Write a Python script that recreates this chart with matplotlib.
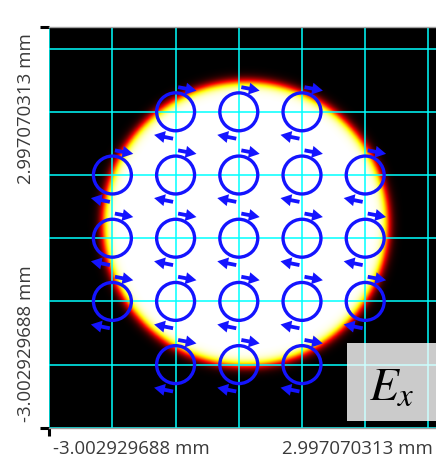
import numpy as np
import matplotlib
matplotlib.use("Agg")
import matplotlib.pyplot as plt
from matplotlib.colors import LinearSegmentedColormap
from matplotlib.patches import Circle, FancyArrow, Rectangle

# axis end labels (mm)
x_lo, x_hi_label = -3.002929688, 2.997070313
y_lo, y_hi_label = -3.002929688, 2.997070313
x_label_lo = "-3.002929688 mm"
x_label_hi = "2.997070313 mm"
y_label_lo = "-3.002929688 mm"
y_label_hi = "2.997070313 mm"

# visible window (mm)
x_view = (x_lo, 3.120)
y_view = (y_lo, 3.342)

# cyan grid lines (mm)
grid_mm = [-3, -2, -1, 0, 1, 2, 3]

# beam spot: centre, radius, edge softness (mm)
beam_cx, beam_cy = 0.10, 0.23
beam_r = 2.25
beam_edge = 0.09

# polarisation markers (mm)
marker_x = [-1, 0, 1,
            -2, -1, 0, 1, 2,
            -2, -1, 0, 1, 2,
            -2, -1, 0, 1, 2,
            -1, 0, 1]
marker_y = [2, 2, 2,
            1, 1, 1, 1, 1,
            0, 0, 0, 0, 0,
            -1, -1, -1, -1, -1,
            -2, -2, -2]

W, H = 436, 459
fig = plt.figure(figsize=(W / 100, H / 100), dpi=100)
ax = fig.add_axes([49 / W, (H - 428) / H, (W - 49) / W, 401 / H])

# intensity image, black -> red -> yellow -> white
cmap = LinearSegmentedColormap.from_list(
    "hotblack", [(0, "black"), (0.375, "red"), (0.75, "yellow"), (1, "white")])
xs = np.linspace(x_view[0], x_view[1], 700)
ys = np.linspace(y_view[0], y_view[1], 700)
X, Y = np.meshgrid(xs, ys)
R = np.hypot(X - beam_cx, Y - beam_cy)
I = 0.5 * (1 - np.tanh((R - beam_r) / beam_edge))
ax.imshow(I, cmap=cmap, vmin=0, vmax=1, origin="lower",
          extent=[x_view[0], x_view[1], y_view[0], y_view[1]],
          interpolation="bilinear", aspect="auto", zorder=0)

for g in grid_mm:
    ax.axvline(g, color="#00ffff", lw=1.1, zorder=1)
    ax.axhline(g, color="#00ffff", lw=1.1, zorder=1)

blue = "#1414ff"
rc = 0.30
arrow_kw = dict(width=0.06, head_width=0.19, head_length=0.17,
                length_includes_head=True, color=blue, lw=0, zorder=3)
for cx, cy in zip(marker_x, marker_y):
    ax.add_patch(Circle((cx, cy), rc, fill=False, ec=blue, lw=2.4, zorder=3))
    # top arrow -> right, bottom arrow -> left
    t0 = (cx + 0.04, cy + 0.39)
    t1 = (cx + 0.33, cy + 0.335)
    ax.add_patch(FancyArrow(t0[0], t0[1], t1[0] - t0[0], t1[1] - t0[1], **arrow_kw))
    b0 = (cx - 0.04, cy - 0.425)
    b1 = (cx - 0.34, cy - 0.365)
    ax.add_patch(FancyArrow(b0[0], b0[1], b1[0] - b0[0], b1[1] - b0[1], **arrow_kw))

ax.set_xlim(*x_view)
ax.set_ylim(*y_view)

for s in ["top", "bottom"]:
    ax.spines[s].set_color("#a0a0a0")
    ax.spines[s].set_linewidth(1.0)
ax.spines["left"].set_visible(False)
ax.spines["right"].set_visible(False)

ax.set_xticks([x_lo])
ax.set_yticks([y_lo, y_view[1]])
ax.set_xticklabels([])
ax.set_yticklabels([])
ax.tick_params(axis="x", length=5.5, width=2.2, color="black")
ax.tick_params(axis="y", length=6.5, width=2.2, color="black")

# E_x badge
ax.add_patch(Rectangle(((347 - 49) / 387, (428 - 421) / 401), 0.3, 78 / 401,
                       transform=ax.transAxes, fc="white", alpha=0.8,
                       ec="none", zorder=4, clip_on=False))
plt.rcParams["mathtext.fontset"] = "stix"
fig.text(392 / W, 1 - 387 / H, r"$E_x$", fontsize=34, ha="center",
         va="center", zorder=5)

lab = dict(fontsize=13.4, family="Open Sans", color="#3a3a3a")
fig.text(53 / W, 1 - 449 / H, x_label_lo, ha="left", va="center", **lab)
fig.text(433 / W, 1 - 449 / H, x_label_hi, ha="right", va="center", **lab)
fig.text(26 / W, 1 - 33 / H, y_label_hi, rotation=90, ha="center", va="top", **lab)
fig.text(26 / W, 1 - 422 / H, y_label_lo, rotation=90, ha="center", va="bottom", **lab)

fig.savefig("out.png", dpi=100)
